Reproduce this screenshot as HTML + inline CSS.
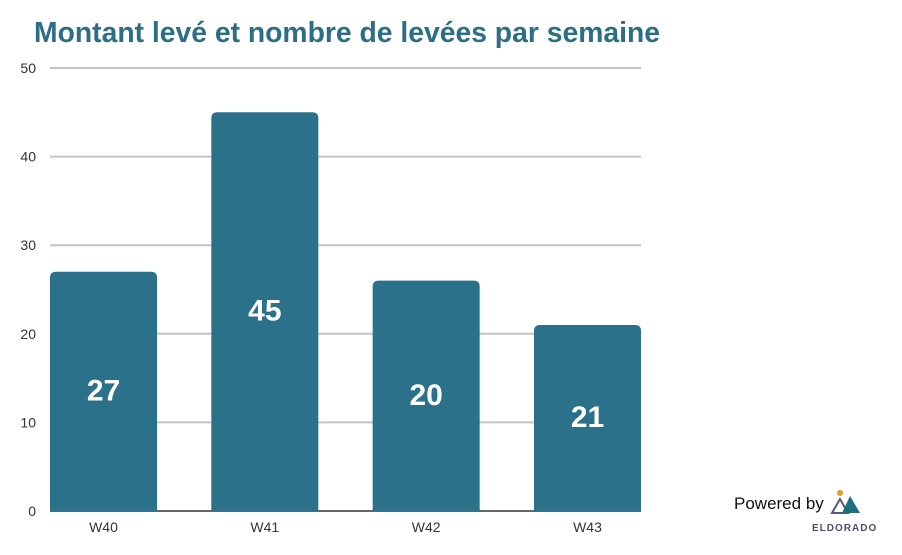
<!DOCTYPE html>
<html><head><meta charset="utf-8"><style>
body{margin:0;background:#fff;width:902px;height:550px;overflow:hidden;font-family:"Liberation Sans",sans-serif}
</style></head><body>
<svg id="c" width="902" height="550">
<text x="34" y="42" font-size="29" font-weight="bold" fill="#2b6e86" textLength="626" lengthAdjust="spacingAndGlyphs">Montant levé et nombre de levées par semaine</text>
<g id="grid"></g><g id="bars"></g>
<g>
<text x="734" y="509" font-size="17" fill="#111">Powered by</text>
<circle cx="840" cy="493" r="3" fill="#e0a020"/>
<polygon points="832,513 840,499 848,513" fill="none" stroke="#555a7a" stroke-width="2"/>
<polygon points="842,513 850,496 860,513" fill="#1f6e7e"/>
<text x="812" y="531" font-size="10" font-weight="bold" fill="#4a5068" letter-spacing="1">ELDORADO</text>
</g>
</svg>
<script>
const categories=["W40","W41","W42","W43"];
const values=[27,45,26,21];
const labels=["27","45","20","21"];
const ticks=[0,10,20,30,40,50];
const NS="http://www.w3.org/2000/svg";
const x0=50,x1=641,y0=511,yTop=68,yMax=50;
const y=v=>y0-(v/yMax)*(y0-yTop);
const bw=107;
const step=(x1-x0-bw)/(categories.length-1);
const bx=i=>x0+i*step;
function mk(t,a,p){const e=document.createElementNS(NS,t);for(const k in a)e.setAttribute(k,a[k]);p.appendChild(e);return e;}
const g=document.getElementById('grid'),b=document.getElementById('bars');
ticks.forEach(t=>{
 const l=mk('line',{x1:x0,x2:x1,y1:y(t),y2:y(t),stroke:t===0?'#666':'#c4c4c4','stroke-width':2},g);
 
 
 const tx=mk('text',{x:36,y:y(t)+5,'font-size':14,fill:'#333','text-anchor':'end'},g);
 tx.textContent=t;
 
 
});
categories.forEach((c,i)=>{
 const r=mk('path',{d:`M${bx(i)},${y0} V${y(values[i])+6} q0,-6 6,-6 h${bw-12} q6,0 6,6 V${y0} Z`,fill:'#2b7189'},b);
 
 
 const v=mk('text',{x:bx(i)+bw/2,y:(y(values[i])+y0)/2+9,'font-size':30,'font-weight':'bold',fill:'#fff','text-anchor':'middle'},b);
 v.textContent=labels[i];
 
 
 const xl=mk('text',{x:bx(i)+bw/2,y:532,'font-size':14,fill:'#333','text-anchor':'middle'},b);
 xl.textContent=c;
 
 
});
</script>
</body></html>
